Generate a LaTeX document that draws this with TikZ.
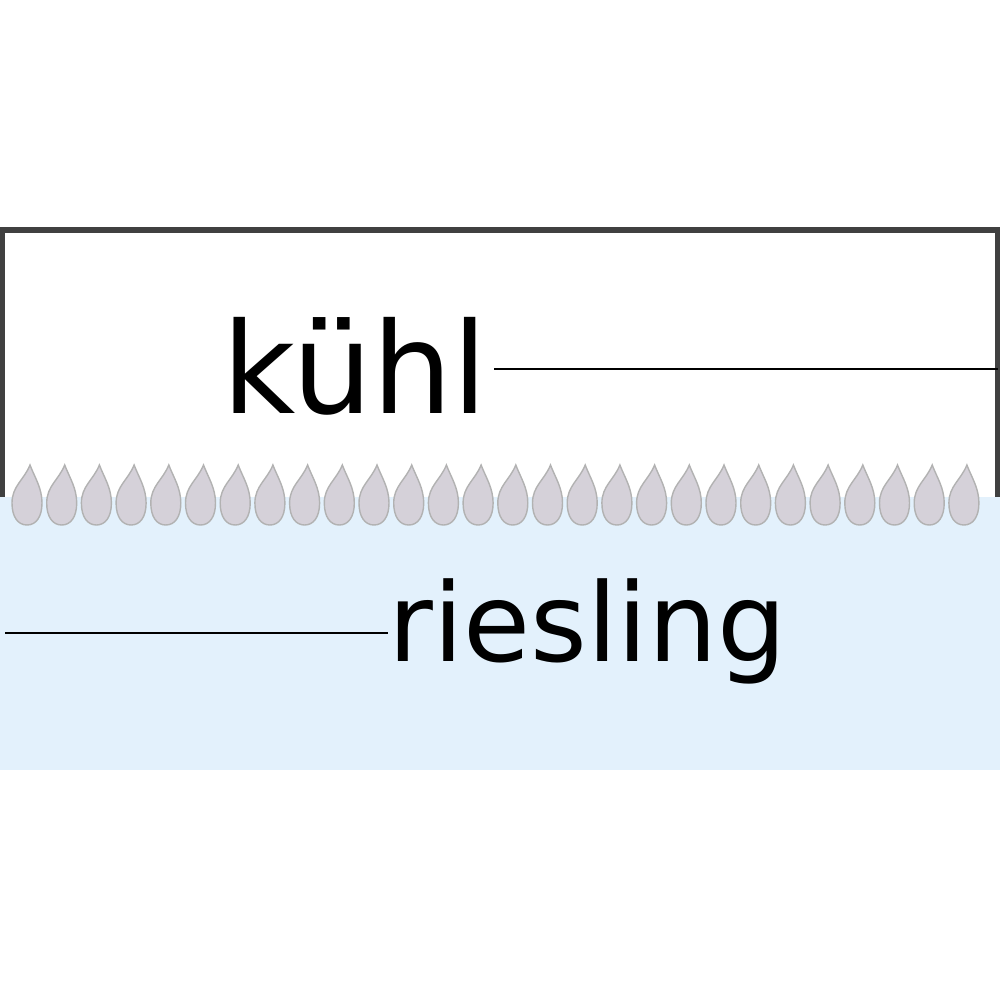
\documentclass[tikz,border=0pt]{standalone}
\usepackage{fontspec}
\setmainfont{DejaVu Sans}
\definecolor{water}{HTML}{E3F1FC}
\definecolor{dropc}{HTML}{D5D1D9}
\begin{document}
\begin{tikzpicture}[x=0.01cm,y=-0.01cm,
  drop/.style={fill=dropc,draw=gray!60,line width=0.4pt},
  lbl/.style={inner sep=0pt,anchor=base west},
  conn/.style={line width=0.8pt}]
\useasboundingbox (0,0) rectangle (1000,1000);
\fill[water] (0,497) rectangle (1000,770);
\draw[line width=1.5pt,black!75] (2,497) -- (2,230) -- (998,230) -- (998,497);
\foreach \i in {0,...,27}{
  \pgfmathsetmacro{\cx}{27+\i*34.7}
  \draw[drop] (\cx+3,465) .. controls (\cx+8,478) and (\cx+15,488) .. (\cx+15,503)
     .. controls (\cx+15,517) and (\cx+9,525) .. (\cx,525)
     .. controls (\cx-9,525) and (\cx-15,517) .. (\cx-15,503)
     .. controls (\cx-15,486) and (\cx-3,480) .. (\cx+3,465) -- cycle;
}
\node[lbl,font=\fontsize{36}{40}\selectfont] (k) at (222,413) {kühl};
\coordinate (kr) at (998,369);
\draw[conn] (k.east |- kr) ++(6,0) -- (kr);
\node[lbl,font=\fontsize{31}{36}\selectfont] (r) at (388,661) {riesling};
\coordinate (rl) at (5,633);
\draw[conn] (rl) -- (r.west |- rl);
\end{tikzpicture}
\end{document}
